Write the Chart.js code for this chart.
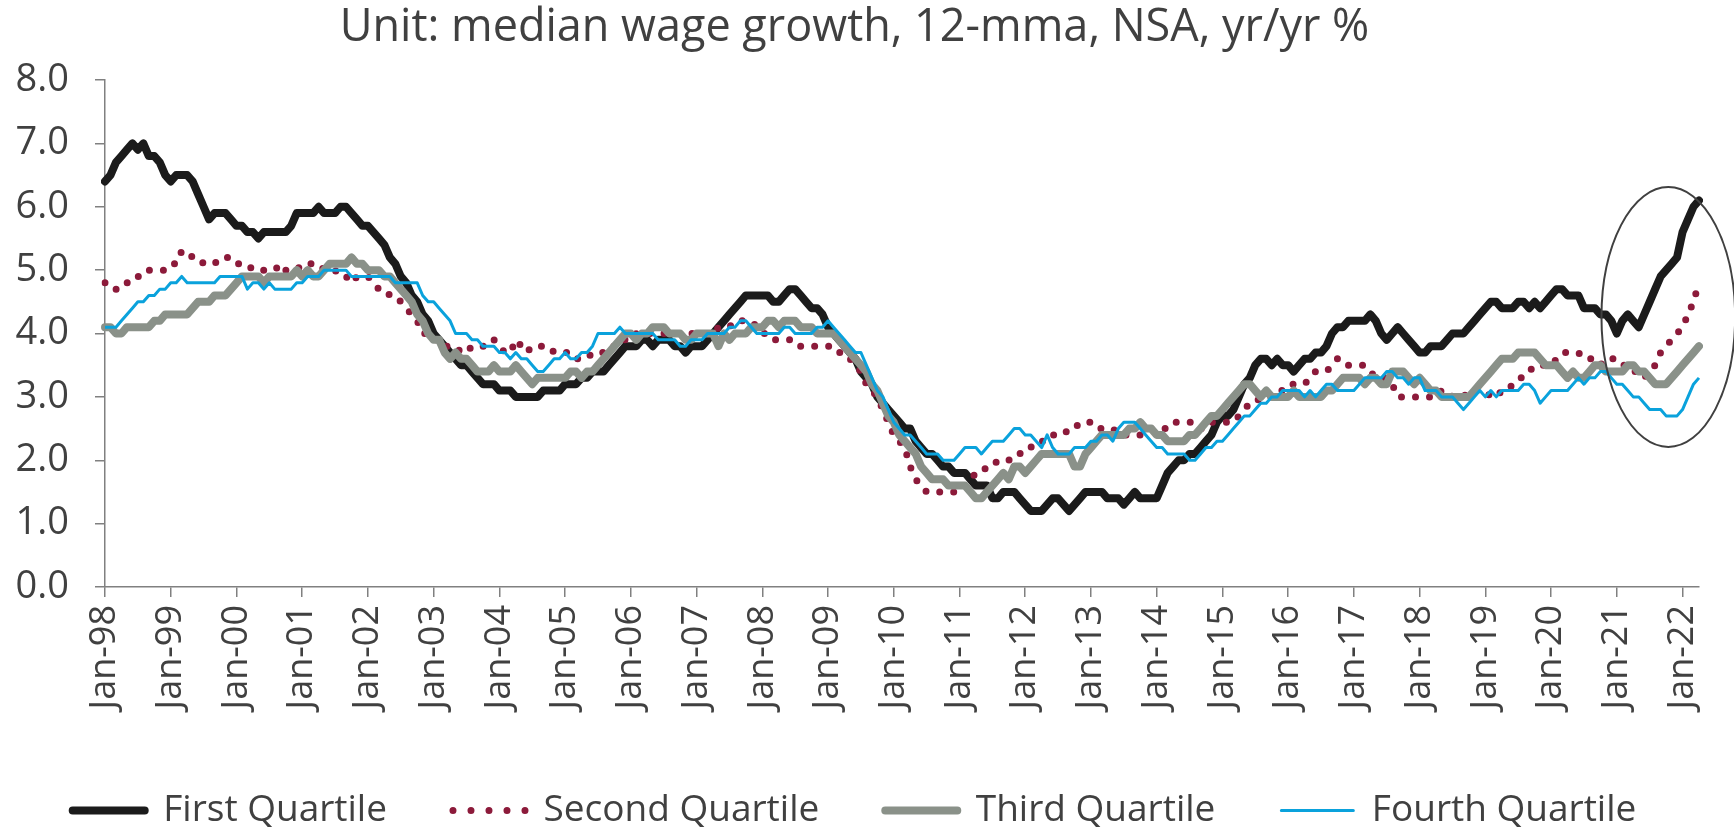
<!DOCTYPE html>
<html>
<head>
<meta charset="utf-8">
<title>Median wage growth by quartile</title>
<script src="https://cdn.jsdelivr.net/npm/chart.js@4"></script>
<style>
    html, body { margin: 0; padding: 0; background: #ffffff; overflow: hidden; }
    #wrap { width: 1734px; height: 839px; }
</style>
</head>
<body>
<div id="wrap"><canvas id="wageChart"></canvas></div>
<script>
// Median wage growth by wage quartile, 12-mma, yr/yr %, Jan-98 .. Apr-22 (monthly)

const titleText = 'Unit: median wage growth, 12-mma, NSA, yr/yr %';
const seriesNames = ['First Quartile', 'Second Quartile', 'Third Quartile', 'Fourth Quartile'];
const monthNames = ['Jan', 'Feb', 'Mar', 'Apr', 'May', 'Jun', 'Jul', 'Aug', 'Sep', 'Oct', 'Nov', 'Dec'];
const firstYear = 1998;
const monthCount = 292;
const yTicks = [0, 1, 2, 3, 4, 5, 6, 7, 8];

const firstQuartile = [
    6.4, 6.5, 6.7, 6.8, 6.9, 7.0, 6.9, 7.0, 6.8, 6.8, 6.7, 6.5,
    6.4, 6.5, 6.5, 6.5, 6.4, 6.2, 6.0, 5.8, 5.9, 5.9, 5.9, 5.8,
    5.7, 5.7, 5.6, 5.6, 5.5, 5.6, 5.6, 5.6, 5.6, 5.6, 5.7, 5.9,
    5.9, 5.9, 5.9, 6.0, 5.9, 5.9, 5.9, 6.0, 6.0, 5.9, 5.8, 5.7,
    5.7, 5.6, 5.5, 5.4, 5.2, 5.1, 4.9, 4.8, 4.6, 4.5, 4.3, 4.2,
    4.0, 3.9, 3.8, 3.7, 3.6, 3.5, 3.5, 3.4, 3.3, 3.2, 3.2, 3.2,
    3.1, 3.1, 3.1, 3.0, 3.0, 3.0, 3.0, 3.0, 3.1, 3.1, 3.1, 3.1,
    3.2, 3.2, 3.2, 3.3, 3.3, 3.4, 3.4, 3.4, 3.5, 3.6, 3.7, 3.8,
    3.8, 3.8, 3.9, 3.9, 3.8, 3.9, 3.9, 3.9, 3.8, 3.8, 3.7, 3.8,
    3.8, 3.8, 3.9, 4.0, 4.1, 4.2, 4.3, 4.4, 4.5, 4.6, 4.6, 4.6,
    4.6, 4.6, 4.5, 4.5, 4.6, 4.7, 4.7, 4.6, 4.5, 4.4, 4.4, 4.3,
    4.1, 4.0, 3.9, 3.8, 3.7, 3.6, 3.4, 3.3, 3.2, 3.0, 2.9, 2.8,
    2.7, 2.6, 2.5, 2.5, 2.3, 2.2, 2.1, 2.1, 2.0, 1.9, 1.9, 1.8,
    1.8, 1.8, 1.7, 1.6, 1.6, 1.6, 1.4, 1.4, 1.5, 1.5, 1.5, 1.4,
    1.3, 1.2, 1.2, 1.2, 1.3, 1.4, 1.4, 1.3, 1.2, 1.3, 1.4, 1.5,
    1.5, 1.5, 1.5, 1.4, 1.4, 1.4, 1.3, 1.4, 1.5, 1.4, 1.4, 1.4,
    1.4, 1.6, 1.8, 1.9, 2.0, 2.0, 2.1, 2.1, 2.2, 2.3, 2.4, 2.6,
    2.7, 2.7, 2.8, 3.0, 3.2, 3.3, 3.5, 3.6, 3.6, 3.5, 3.6, 3.5,
    3.5, 3.4, 3.5, 3.6, 3.6, 3.7, 3.7, 3.8, 4.0, 4.1, 4.1, 4.2,
    4.2, 4.2, 4.2, 4.3, 4.2, 4.0, 3.9, 4.0, 4.1, 4.0, 3.9, 3.8,
    3.7, 3.7, 3.8, 3.8, 3.8, 3.9, 4.0, 4.0, 4.0, 4.1, 4.2, 4.3,
    4.4, 4.5, 4.5, 4.4, 4.4, 4.4, 4.5, 4.5, 4.4, 4.5, 4.4, 4.5,
    4.6, 4.7, 4.7, 4.6, 4.6, 4.6, 4.4, 4.4, 4.4, 4.3, 4.3, 4.2,
    4.0, 4.2, 4.3, 4.2, 4.1, 4.3, 4.5, 4.7, 4.9, 5.0, 5.1, 5.2,
    5.6, 5.8, 6.0, 6.1
];

const secondQuartile = [
    4.8, 4.8, 4.7, 4.7, 4.8, 4.8, 4.9, 4.9, 5.0, 5.0, 5.0, 5.0,
    5.1, 5.1, 5.3, 5.3, 5.2, 5.2, 5.1, 5.1, 5.1, 5.2, 5.2, 5.2,
    5.1, 5.1, 5.1, 5.0, 5.0, 5.0, 5.0, 5.0, 5.1, 5.0, 5.0, 5.0,
    5.1, 5.1, 5.1, 5.1, 5.0, 5.0, 5.0, 4.9, 4.9, 4.8, 4.9, 4.9,
    4.9, 4.8, 4.7, 4.7, 4.6, 4.6, 4.5, 4.4, 4.3, 4.2, 4.0, 4.0,
    3.9, 3.9, 3.8, 3.8, 3.8, 3.7, 3.7, 3.8, 3.8, 3.8, 3.8, 3.9,
    3.8, 3.7, 3.7, 3.9, 3.8, 3.7, 3.8, 3.8, 3.8, 3.8, 3.7, 3.7,
    3.7, 3.7, 3.6, 3.6, 3.6, 3.7, 3.7, 3.7, 3.8, 3.8, 3.9, 3.9,
    3.9, 4.0, 4.0, 4.0, 4.0, 4.0, 4.0, 4.0, 4.0, 4.0, 4.0, 4.0,
    4.0, 4.0, 4.0, 4.0, 4.1, 4.1, 4.1, 4.2, 4.2, 4.2, 4.2, 4.1,
    4.0, 4.0, 3.9, 3.9, 3.9, 3.9, 3.8, 3.8, 3.8, 3.8, 3.8, 3.8,
    3.8, 3.8, 3.7, 3.7, 3.6, 3.5, 3.4, 3.2, 3.1, 3.0, 2.8, 2.6,
    2.4, 2.3, 2.2, 1.9, 1.7, 1.6, 1.5, 1.5, 1.5, 1.5, 1.5, 1.5,
    1.6, 1.6, 1.7, 1.8, 1.8, 1.9, 1.9, 2.0, 2.0, 2.0, 2.1, 2.1,
    2.2, 2.2, 2.3, 2.3, 2.3, 2.4, 2.4, 2.4, 2.5, 2.5, 2.6, 2.6,
    2.6, 2.5, 2.5, 2.5, 2.5, 2.4, 2.4, 2.4, 2.4, 2.4, 2.5, 2.5,
    2.5, 2.5, 2.5, 2.6, 2.6, 2.6, 2.6, 2.6, 2.5, 2.5, 2.6, 2.6,
    2.6, 2.6, 2.6, 2.7, 2.8, 2.9, 2.9, 3.0, 3.0, 3.0, 3.1, 3.1,
    3.2, 3.2, 3.2, 3.2, 3.3, 3.4, 3.4, 3.4, 3.5, 3.6, 3.5, 3.5,
    3.5, 3.5, 3.5, 3.4, 3.3, 3.3, 3.3, 3.2, 3.0, 3.0, 3.0, 3.0,
    3.0, 3.0, 3.0, 3.0, 3.1, 3.1, 3.0, 3.0, 3.0, 3.1, 3.1, 3.1,
    3.1, 3.0, 3.0, 3.1, 3.1, 3.2, 3.3, 3.3, 3.4, 3.5, 3.5, 3.5,
    3.5, 3.6, 3.7, 3.7, 3.7, 3.7, 3.6, 3.6, 3.6, 3.5, 3.6, 3.6,
    3.6, 3.5, 3.5, 3.4, 3.4, 3.3, 3.4, 3.5, 3.7, 3.8, 3.9, 4.0,
    4.1, 4.3, 4.5, 4.8
];

const thirdQuartile = [
    4.1, 4.1, 4.0, 4.0, 4.1, 4.1, 4.1, 4.1, 4.1, 4.2, 4.2, 4.3,
    4.3, 4.3, 4.3, 4.3, 4.4, 4.5, 4.5, 4.5, 4.6, 4.6, 4.6, 4.7,
    4.8, 4.9, 4.9, 4.9, 4.9, 4.8, 4.9, 4.9, 4.9, 4.9, 4.9, 5.0,
    4.9, 5.0, 4.9, 4.9, 5.0, 5.1, 5.1, 5.1, 5.1, 5.2, 5.1, 5.1,
    5.0, 5.0, 5.0, 4.9, 4.9, 4.8, 4.7, 4.6, 4.5, 4.3, 4.2, 4.0,
    3.9, 3.9, 3.7, 3.6, 3.7, 3.6, 3.6, 3.5, 3.4, 3.4, 3.4, 3.5,
    3.4, 3.4, 3.4, 3.5, 3.4, 3.3, 3.2, 3.3, 3.3, 3.3, 3.3, 3.3,
    3.3, 3.4, 3.4, 3.3, 3.4, 3.4, 3.5, 3.6, 3.7, 3.8, 3.9, 4.0,
    4.0, 3.9, 4.0, 4.0, 4.1, 4.1, 4.1, 4.0, 4.0, 4.0, 3.9, 3.9,
    4.0, 4.0, 4.0, 4.0, 3.8, 4.0, 3.9, 4.0, 4.0, 4.0, 4.1, 4.1,
    4.1, 4.2, 4.2, 4.1, 4.2, 4.2, 4.2, 4.1, 4.1, 4.1, 4.0, 4.0,
    4.0, 4.0, 3.9, 3.8, 3.7, 3.6, 3.5, 3.4, 3.2, 3.1, 2.9, 2.7,
    2.6, 2.4, 2.3, 2.2, 2.1, 1.9, 1.8, 1.7, 1.7, 1.7, 1.6, 1.6,
    1.6, 1.6, 1.5, 1.4, 1.4, 1.5, 1.6, 1.7, 1.8, 1.7, 1.9, 1.9,
    1.8, 1.9, 2.0, 2.1, 2.1, 2.1, 2.1, 2.1, 2.1, 1.9, 1.9, 2.1,
    2.2, 2.3, 2.4, 2.4, 2.4, 2.4, 2.4, 2.5, 2.5, 2.6, 2.5, 2.5,
    2.4, 2.4, 2.3, 2.3, 2.3, 2.3, 2.4, 2.4, 2.5, 2.6, 2.7, 2.7,
    2.8, 2.9, 3.0, 3.1, 3.2, 3.2, 3.1, 3.0, 3.1, 3.0, 3.0, 3.0,
    3.0, 3.1, 3.0, 3.0, 3.0, 3.0, 3.0, 3.1, 3.1, 3.2, 3.3, 3.3,
    3.3, 3.3, 3.2, 3.3, 3.3, 3.2, 3.2, 3.4, 3.4, 3.4, 3.3, 3.2,
    3.3, 3.2, 3.1, 3.1, 3.0, 3.0, 3.0, 3.0, 3.0, 3.0, 3.1, 3.2,
    3.3, 3.4, 3.5, 3.6, 3.6, 3.6, 3.7, 3.7, 3.7, 3.7, 3.6, 3.5,
    3.5, 3.5, 3.4, 3.3, 3.4, 3.3, 3.3, 3.4, 3.5, 3.5, 3.4, 3.4,
    3.4, 3.4, 3.5, 3.5, 3.4, 3.4, 3.3, 3.2, 3.2, 3.2, 3.3, 3.4,
    3.5, 3.6, 3.7, 3.8
];

const fourthQuartile = [
    4.1, 4.1, 4.1, 4.2, 4.3, 4.4, 4.5, 4.5, 4.6, 4.6, 4.7, 4.7,
    4.8, 4.8, 4.9, 4.8, 4.8, 4.8, 4.8, 4.8, 4.8, 4.9, 4.9, 4.9,
    4.9, 4.9, 4.7, 4.8, 4.8, 4.7, 4.8, 4.7, 4.7, 4.7, 4.7, 4.8,
    4.8, 4.9, 4.9, 4.9, 5.0, 5.0, 5.0, 5.0, 5.0, 4.9, 4.9, 4.9,
    4.9, 4.9, 4.9, 4.9, 4.9, 4.8, 4.8, 4.8, 4.8, 4.8, 4.6, 4.5,
    4.5, 4.4, 4.3, 4.2, 4.0, 4.0, 4.0, 3.9, 3.9, 3.8, 3.8, 3.8,
    3.7, 3.7, 3.6, 3.7, 3.6, 3.6, 3.5, 3.4, 3.4, 3.5, 3.6, 3.6,
    3.7, 3.6, 3.6, 3.7, 3.7, 3.8, 4.0, 4.0, 4.0, 4.0, 4.1, 4.0,
    4.0, 4.0, 4.0, 4.0, 4.0, 3.9, 3.9, 3.9, 3.9, 3.8, 3.8, 3.9,
    3.9, 3.9, 4.0, 4.0, 4.0, 4.0, 4.1, 4.1, 4.2, 4.2, 4.1, 4.0,
    4.0, 4.0, 4.0, 4.0, 4.1, 4.1, 4.0, 4.0, 4.0, 4.0, 4.1, 4.1,
    4.2, 4.1, 4.0, 3.9, 3.8, 3.7, 3.7, 3.5, 3.3, 3.1, 3.0, 2.8,
    2.6, 2.5, 2.4, 2.4, 2.3, 2.2, 2.1, 2.1, 2.1, 2.0, 2.0, 2.0,
    2.1, 2.2, 2.2, 2.2, 2.1, 2.2, 2.3, 2.3, 2.3, 2.4, 2.5, 2.5,
    2.4, 2.4, 2.3, 2.2, 2.4, 2.2, 2.1, 2.1, 2.1, 2.2, 2.2, 2.2,
    2.3, 2.3, 2.4, 2.4, 2.3, 2.5, 2.6, 2.6, 2.6, 2.5, 2.4, 2.3,
    2.2, 2.2, 2.1, 2.1, 2.1, 2.1, 2.0, 2.0, 2.1, 2.2, 2.2, 2.3,
    2.3, 2.4, 2.5, 2.6, 2.7, 2.7, 2.8, 2.9, 2.9, 3.0, 3.0, 3.1,
    3.1, 3.1, 3.1, 3.0, 3.1, 3.0, 3.1, 3.2, 3.2, 3.1, 3.1, 3.1,
    3.1, 3.2, 3.3, 3.3, 3.3, 3.3, 3.4, 3.4, 3.3, 3.3, 3.2, 3.3,
    3.3, 3.1, 3.1, 3.1, 3.0, 3.0, 3.0, 2.9, 2.8, 2.9, 3.0, 3.1,
    3.0, 3.1, 3.0, 3.1, 3.1, 3.1, 3.1, 3.2, 3.2, 3.1, 2.9, 3.0,
    3.1, 3.1, 3.1, 3.1, 3.2, 3.3, 3.2, 3.3, 3.3, 3.4, 3.4, 3.3,
    3.2, 3.2, 3.1, 3.0, 3.0, 2.9, 2.8, 2.8, 2.8, 2.7, 2.7, 2.7,
    2.8, 3.0, 3.2, 3.3
];

// ellipse drawn round the 2021-22 jump, in data units (month index, %)
const highlight = { centerMonth: 285.4, halfMonths: 12.2, centerValue: 4.26, halfValue: 2.05 };

// Build "Jan-98" style category labels
const monthLabels = [];
for (let i = 0; i < monthCount; i++) {
    const year = firstYear + Math.floor(i / 12);
    monthLabels.push(monthNames[i % 12] + '-' + String(year).slice(2));
}

const fontFamily = "'Open Sans', sans-serif";
const textColor = '#404040';
const axisColor = '#808080';

const ellipsePlugin = {
    id: 'highlightEllipse',
    afterDatasetsDraw(chart) {
        const { ctx, scales: { x, y } } = chart;
        const cx = x.getPixelForValue(highlight.centerMonth);
        const cy = y.getPixelForValue(highlight.centerValue);
        const rx = x.getPixelForValue(highlight.centerMonth + highlight.halfMonths) - cx;
        const ry = cy - y.getPixelForValue(highlight.centerValue + highlight.halfValue);
        ctx.save();
        ctx.beginPath();
        ctx.ellipse(cx, cy, rx, ry, 0, 0, Math.PI * 2);
        ctx.strokeStyle = '#404040';
        ctx.lineWidth = 2;
        ctx.stroke();
        ctx.restore();
    }
};

function initChart() {
    const ctx = document.getElementById('wageChart').getContext('2d');

    new Chart(ctx, {
        type: 'line',
        data: {
            labels: monthLabels,
            datasets: [
                {
                    label: seriesNames[0],
                    data: firstQuartile,
                    borderColor: '#1b1b1b',
                    backgroundColor: 'rgba(0,0,0,0)',
                    borderWidth: 8,
                    borderJoinStyle: 'round',
                    borderCapStyle: 'round',
                    order: 4
                },
                {
                    label: seriesNames[1],
                    data: secondQuartile,
                    borderColor: '#8c1a3a',
                    backgroundColor: 'rgba(0,0,0,0)',
                    borderWidth: 7,
                    borderDash: [0, 14],
                    borderCapStyle: 'round',
                    borderJoinStyle: 'round',
                    order: 3
                },
                {
                    label: seriesNames[2],
                    data: thirdQuartile,
                    borderColor: '#8a9189',
                    backgroundColor: 'rgba(0,0,0,0)',
                    borderWidth: 8,
                    borderJoinStyle: 'round',
                    borderCapStyle: 'round',
                    order: 2
                },
                {
                    label: seriesNames[3],
                    data: fourthQuartile,
                    borderColor: '#0aa2dc',
                    backgroundColor: 'rgba(0,0,0,0)',
                    borderWidth: 3,
                    borderJoinStyle: 'round',
                    order: 1
                }
            ]
        },
        options: {
            responsive: true,
            maintainAspectRatio: false,
            animation: false,
            elements: { point: { radius: 0 }, line: { tension: 0 } },
            layout: { padding: { left: 0, right: 25, top: 0, bottom: 0 } },
            plugins: {
                title: {
                    display: true,
                    text: titleText,
                    color: textColor,
                    font: { family: fontFamily, size: 45, weight: 'normal' },
                    padding: { top: 1, bottom: 25 }
                },
                legend: {
                    position: 'bottom',
                    labels: {
                        color: textColor,
                        font: { family: fontFamily, size: 37 },
                        boxWidth: 72,
                        boxHeight: 0,
                        padding: 66,
                        sort: (a, b) => a.datasetIndex - b.datasetIndex,
                        generateLabels(chart) {
                            const items = Chart.defaults.plugins.legend.labels.generateLabels(chart);
                            items.forEach(item => {
                                if (item.datasetIndex === 1) item.lineDash = [0, 18];
                            });
                            return items;
                        }
                    }
                },
                tooltip: { enabled: false }
            },
            scales: {
                x: {
                    ticks: {
                        autoSkip: false,
                        minRotation: 90,
                        maxRotation: 90,
                        padding: 8,
                        color: textColor,
                        font: { family: fontFamily, size: 36 },
                        callback: (value, index) => (index % 12 === 0 ? monthLabels[index] : null)
                    },
                    grid: { drawOnChartArea: false, drawTicks: true, tickLength: 10, color: axisColor, lineWidth: 1.5 },
                    border: { display: true, color: axisColor, width: 1.5 },
                    afterFit: scale => { scale.height = 139; }
                },
                y: {
                    min: yTicks[0],
                    max: yTicks[yTicks.length - 1],
                    afterBuildTicks: scale => { scale.ticks = yTicks.map(v => ({ value: v })); },
                    ticks: {
                        padding: 26,
                        color: textColor,
                        font: { family: fontFamily, size: 38 },
                        callback: value => Number(value).toFixed(1)
                    },
                    grid: { drawOnChartArea: false, drawTicks: true, tickLength: 10, color: axisColor, lineWidth: 1.5 },
                    border: { display: true, color: axisColor, width: 1.5 },
                    afterFit: scale => { scale.width = 105; }
                }
            }
        },
        plugins: [ellipsePlugin]
    });
}

document.addEventListener('DOMContentLoaded', initChart);
</script>
</body>
</html>
